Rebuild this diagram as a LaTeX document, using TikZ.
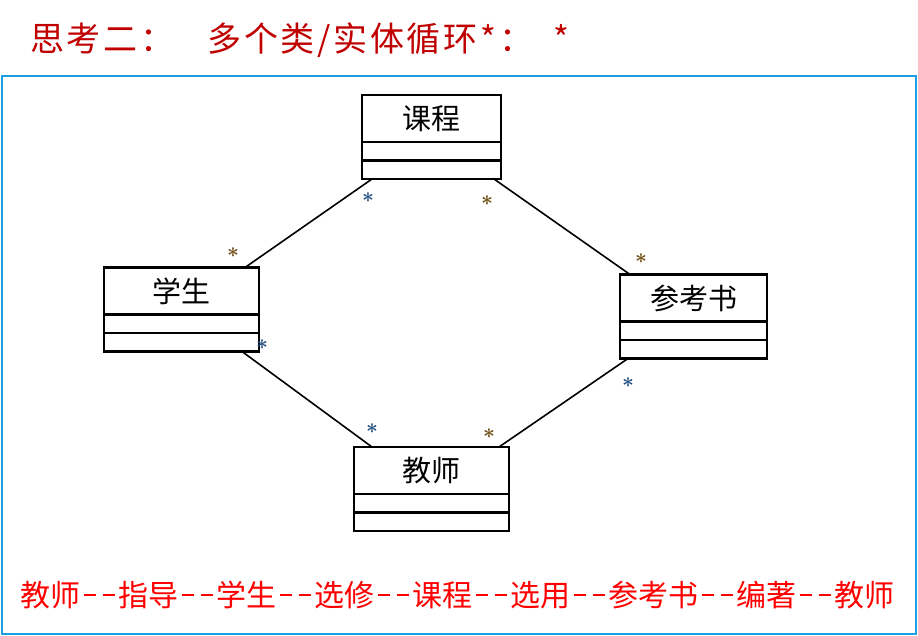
\documentclass[tikz,border=0pt]{standalone}
\usepackage{fontspec}
\newfontfamily\cjk{Noto Sans CJK SC}
\newfontfamily\cjktitle[LetterSpace=8]{Noto Sans CJK SC}
\definecolor{FrameBlue}{HTML}{1BA1E2}
\definecolor{TitleRed}{HTML}{C00000}
\definecolor{ChainRed}{HTML}{FF0000}
\definecolor{StarBlue}{HTML}{1F4A80}
\definecolor{StarBrown}{HTML}{6E4A10}
\usetikzlibrary{positioning}
\newcommand\lnk{\makebox[19pt]{\rule[10pt]{12pt}{2pt}}\makebox[19pt]{\rule[10pt]{12pt}{2pt}}}

\begin{document}
\begin{tikzpicture}[
  x=1pt, y=-1pt,
  cls/.style={rectangle, draw=black, line width=2.2pt, outer sep=0pt, inner sep=0pt,
              minimum width=#1, minimum height=47, font=\cjk\fontsize{29}{29}\selectfont},
  slot/.style={rectangle, draw=black, line width=2.2pt, outer sep=0pt, inner sep=0pt,
               minimum width=#1, minimum height=18.5},
  assoc/.style={line width=1.6pt, color=black},
  mult/.style={text=#1, inner sep=0pt, font=\fontsize{22}{22}\selectfont\boldmath},
  mult/.default=StarBlue,
]
  \useasboundingbox (0,0) rectangle (918,636);

  % Title and frame
  \node[anchor=west, inner sep=0pt, text=TitleRed, font=\cjktitle\fontsize{34}{34}\selectfont] (title) at (30,40)
    {思考二：\hspace{33pt}多个类/实体循环*：\hspace{20pt}*};
  \draw[FrameBlue, line width=1.5pt] (2,76) rectangle (916,634);

  % Classes
  \node[cls=139] (course) at (431.5,118.5) {课程};
  \node[slot=139, below=0pt of course] (course-a) {};
  \node[slot=139, below=0pt of course-a] (course-b) {};

  \node[cls=155] (student) at (181.5,291) {学生};
  \node[slot=155, below=0pt of student] (student-a) {};
  \node[slot=155, below=0pt of student-a] (student-b) {};

  \node[cls=147] (book) at (693.5,298) {参考书};
  \node[slot=147, below=0pt of book] (book-a) {};
  \node[slot=147, below=0pt of book-a] (book-b) {};

  \node[cls=155] (teacher) at (431.5,470.5) {教师};
  \node[slot=155, below=0pt of teacher] (teacher-a) {};
  \node[slot=155, below=0pt of teacher-a] (teacher-b) {};

  % Associations
  \draw[assoc] ([xshift=10pt]course-b.south west) -- ([xshift=-14pt]student.north east);
  \draw[assoc] ([xshift=-7pt]course-b.south east) -- ([xshift=10pt]book.north west);
  \draw[assoc] ([xshift=-17pt]student-b.south east) -- ([xshift=18pt]teacher.north west);
  \draw[assoc] ([xshift=8pt]book-b.south west) -- ([xshift=-10pt]teacher.north east);

  % Multiplicities
  \node[mult] (m-cs) at (368,198) {$\ast$};
  \node[mult=StarBrown] (m-sc) at (233,253) {$\ast$};
  \node[mult=StarBrown] (m-cb) at (487,201) {$\ast$};
  \node[mult=StarBrown] (m-bc) at (641,259) {$\ast$};
  \node[mult] (m-st) at (262,345) {$\ast$};
  \node[mult] (m-ts) at (372,429) {$\ast$};
  \node[mult] (m-bt) at (628,383) {$\ast$};
  \node[mult=StarBrown] (m-tb) at (489,434) {$\ast$};

  % Chain of relations
  \node[inner sep=0pt, text=ChainRed, font=\cjk\fontsize{30}{30}\selectfont] (chain) at (457.5,595)
    {教师\lnk 指导\lnk 学生\lnk 选修\lnk 课程\lnk 选用\lnk 参考书\lnk 编著\lnk 教师};
\end{tikzpicture}
\end{document}
